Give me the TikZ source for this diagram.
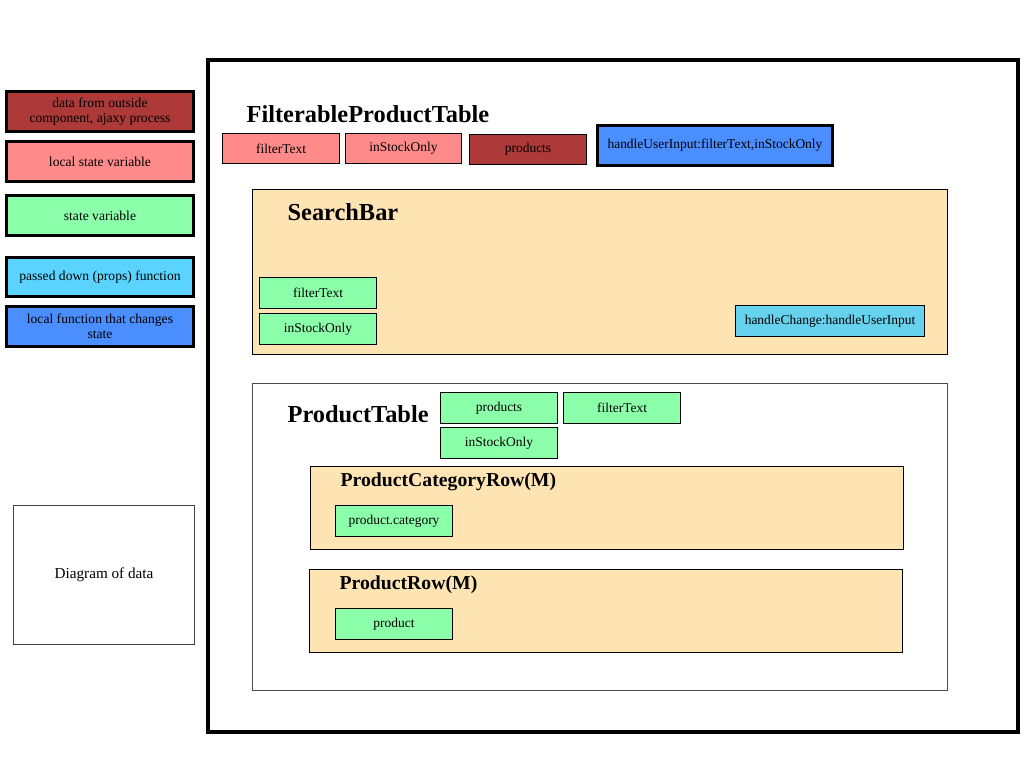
\documentclass[tikz,border=0pt]{standalone}
\usepackage{fontspec}
\setmainfont{Liberation Serif}
\definecolor{cDark}{HTML}{AE3939}
\definecolor{cSalmon}{HTML}{FF8A8A}
\definecolor{cGreen}{HTML}{8CFFAA}
\definecolor{cCyan}{HTML}{5AD4FF}
\definecolor{cCyanB}{HTML}{66D2EE}
\definecolor{cBlue}{HTML}{4A8EFF}
\definecolor{cTan}{HTML}{FFE4B3}
\begin{document}
\begin{tikzpicture}[x=0.75pt,y=-0.75pt,
  every node/.style={inner sep=1pt, align=center},
  legend/.style={draw=black, line width=2.2pt, anchor=north west, font=\fontsize{10.2}{11.5}\selectfont},
  var/.style={draw=black, line width=0.8pt, anchor=north west, font=\fontsize{10.1}{12}\selectfont},
  panel/.style={draw=black, line width=0.8pt, anchor=north west},
  title/.style={anchor=west, font=\bfseries\fontsize{18.3}{20}\selectfont},
  subtitle/.style={anchor=west, font=\bfseries\fontsize{14.8}{17}\selectfont}]
\useasboundingbox[fill=white] (0,0) rectangle (1024,768);

% legend
\node[legend, fill=cDark, minimum width={187*0.75pt}, minimum height={40*0.75pt}] (l1) at (5,90) {data from outside\\component, ajaxy process};
\node[legend, fill=cSalmon, minimum width={187*0.75pt}, minimum height={40*0.75pt}] (l2) at (5,140) {local state variable};
\node[legend, fill=cGreen, minimum width={187*0.75pt}, minimum height={40*0.75pt}] (l3) at (5,194) {state variable};
\node[legend, fill=cCyan, minimum width={187*0.75pt}, minimum height={39*0.75pt}] (l4) at (5,256) {passed down (props) function};
\node[legend, fill=cBlue, minimum width={187*0.75pt}, minimum height={40*0.75pt}] (l5) at (5,305) {local function that changes\\state};

\node[panel, draw=black!75, minimum width={181*0.75pt}, minimum height={139*0.75pt}, font=\fontsize{11.4}{13}\selectfont] (diag) at (13,505) {Diagram of data};

% outer component
\node[draw=black, line width=3.2pt, anchor=north west, minimum width={810*0.75pt}, minimum height={672*0.75pt}] (fpt) at (206,58) {};
\node[title] (fptT) at (245,114) {FilterableProductTable};
\node[var, fill=cSalmon, minimum width={117*0.75pt}, minimum height={30*0.75pt}] (fText) at (222,133) {filterText};
\node[var, fill=cSalmon, minimum width={116*0.75pt}, minimum height={30*0.75pt}] (fStock) at (345,133) {inStockOnly};
\node[var, fill=cDark, minimum width={117*0.75pt}, minimum height={30*0.75pt}] (fProd) at (469,134) {products};
\node[var, fill=cBlue, line width=2.2pt, minimum width={235*0.75pt}, minimum height={40*0.75pt}] (fHandle) at (596,124) {handleUserInput:filterText,inStockOnly};

% SearchBar
\node[panel, fill=cTan, minimum width={695*0.75pt}, minimum height={165*0.75pt}] (sb) at (252,189) {};
\node[title] (sbT) at (286,212) {SearchBar};
\node[var, fill=cGreen, minimum width={117*0.75pt}, minimum height={31*0.75pt}] (sText) at (259,277) {filterText};
\node[var, fill=cGreen, minimum width={117*0.75pt}, minimum height={31*0.75pt}] (sStock) at (259,313) {inStockOnly};
\node[var, fill=cCyanB, minimum width={189*0.75pt}, minimum height={31*0.75pt}] (sHandle) at (735,305) {handleChange:handleUserInput};

% ProductTable
\node[panel, draw=black!70, minimum width={695*0.75pt}, minimum height={307*0.75pt}] (pt) at (252,383) {};
\node[title] (ptT) at (286,414) {ProductTable};
\node[var, fill=cGreen, minimum width={117*0.75pt}, minimum height={31*0.75pt}] (pProd) at (440,392) {products};
\node[var, fill=cGreen, minimum width={117*0.75pt}, minimum height={31*0.75pt}] (pText) at (563,392) {filterText};
\node[var, fill=cGreen, minimum width={117*0.75pt}, minimum height={31*0.75pt}] (pStock) at (440,427) {inStockOnly};

% ProductCategoryRow
\node[panel, fill=cTan, minimum width={593*0.75pt}, minimum height={83*0.75pt}] (pcr) at (310,466) {};
\node[subtitle] (pcrT) at (339,482) {ProductCategoryRow(M)};
\node[var, fill=cGreen, minimum width={117*0.75pt}, minimum height={31*0.75pt}] (pcrCat) at (335,505) {product.category};

% ProductRow
\node[panel, fill=cTan, minimum width={593*0.75pt}, minimum height={83*0.75pt}] (pr) at (309,569) {};
\node[subtitle] (prT) at (338,585) {ProductRow(M)};
\node[var, fill=cGreen, minimum width={117*0.75pt}, minimum height={31*0.75pt}] (prProd) at (335,608) {product};
\end{tikzpicture}
\end{document}
